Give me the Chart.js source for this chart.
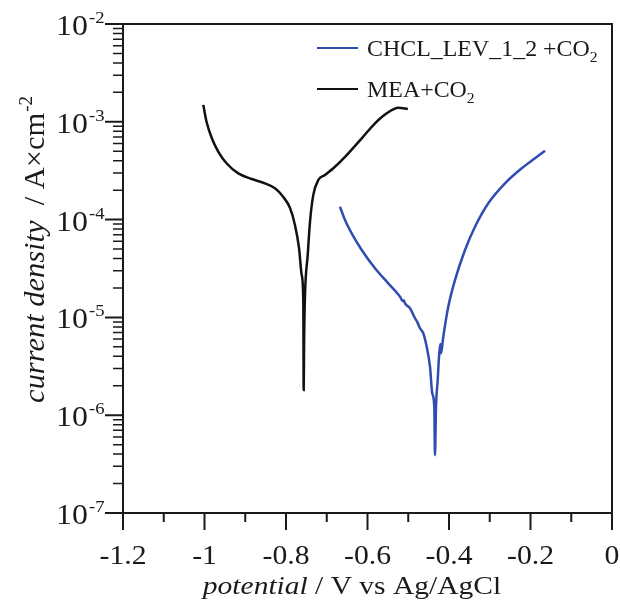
<!DOCTYPE html>
<html lang="es">
<head>
<meta charset="UTF-8">
<title>Curvas de polarización</title>
<script src="https://cdn.jsdelivr.net/npm/chart.js@4.4.1/dist/chart.umd.min.js"></script>
<style>
    body { margin: 0; background: #fff; }
    #contenedor { width: 620px; height: 602px; position: relative; }
</style>
</head>
<body>
<div id="contenedor"><canvas id="grafico-tafel"></canvas></div>
<script>
// Eje X: potencial (V vs Ag/AgCl)
const potencialTicks = [-1.2, -1, -0.8, -0.6, -0.4, -0.2, 0];
const potencialEtiquetas = ['-1.2', '-1', '-0.8', '-0.6', '-0.4', '-0.2', '0'];
const potencialTicksMenores = [-1.1, -0.9, -0.7, -0.5, -0.3, -0.1];

// Eje Y: densidad de corriente, décadas de 10^-7 a 10^-2
const corrienteDecadas = [-7, -6, -5, -4, -3, -2];

// Serie CHCL_LEV_1_2 + CO2
const chclPotencial = [-0.6675, -0.6552, -0.6388, -0.6142, -0.5816, -0.549, -0.5202, -0.514, -0.511,
    -0.508, -0.4957, -0.4834, -0.478, -0.4712, -0.4631, -0.4547, -0.4466, -0.441, -0.4361, -0.4344,
    -0.4319, -0.4277, -0.4245, -0.4213, -0.4196, -0.414, -0.4017, -0.3853, -0.3607, -0.3362, -0.3036,
    -0.2626, -0.2216, -0.189, -0.1644];
const chclCorriente = [1.355e-4, 9.9e-5, 7.24e-5, 4.89e-5, 3.18e-5, 2.23e-5, 1.63e-5, 1.47e-5, 1.5e-5,
    1.39e-5, 1.24e-5, 9.8e-6, 9.0e-6, 7.74e-6, 6.88e-6, 5.0e-6, 3.13e-6, 1.67e-6, 1.22e-6, 3.9e-7,
    1.22e-6, 2.29e-6, 3.96e-6, 5.35e-6, 4.3e-6, 6.35e-6, 1.29e-5, 2.41e-5, 4.89e-5, 8.46e-5, 1.47e-4,
    2.35e-4, 3.35e-4, 4.24e-4, 5.06e-4];

// Serie MEA + CO2
const meaPotencial = [-1.003, -0.995, -0.982, -0.966, -0.946, -0.917, -0.884, -0.852, -0.827, -0.807,
    -0.790, -0.778, -0.768, -0.7615, -0.7575, -0.7566, -0.7555, -0.7534, -0.7467, -0.7411, -0.733,
    -0.7207, -0.7043, -0.6798, -0.647, -0.614, -0.5816, -0.553, -0.524, -0.501];
const meaCorriente = [1.49e-3, 1.0e-3, 6.78e-4, 4.94e-4, 3.77e-4, 2.97e-4, 2.6e-4, 2.35e-4, 2.09e-4, 1.71e-4,
    1.31e-4, 8.8e-5, 5.1e-5, 2.72e-5, 1.45e-5, 1.81e-6, 6e-6, 1.69e-5, 4.35e-5, 9.5e-5, 1.79e-4,
    2.54e-4, 2.86e-4, 3.47e-4, 4.76e-4, 6.78e-4, 9.66e-4, 1.22e-3, 1.39e-3, 1.35e-3];

const colorChcl = '#2f4db0';
const colorMea = '#111111';
const fuente = '"Liberation Serif", "Times New Roman", serif';

// Convierte dos listas en puntos {x, y}
function puntos(xs, ys) {
    return xs.map((x, i) => ({ x: x, y: ys[i] }));
}

// Escribe un texto estirado horizontalmente, devuelve el ancho ocupado
function texto(ctx, t, x, y, font, sx) {
    ctx.font = font;
    ctx.save();
    ctx.translate(x, y);
    ctx.scale(sx, 1);
    ctx.fillText(t, 0, 0);
    ctx.restore();
    return ctx.measureText(t).width * sx;
}

function ancho(ctx, t, font, sx) {
    ctx.font = font;
    return ctx.measureText(t).width * sx;
}

// Plugin que dibuja el marco, las marcas, las etiquetas y la leyenda
const ejesPlugin = {
    id: 'ejes',
    afterDatasetsDraw(chart) {
        const ctx = chart.ctx;
        const area = chart.chartArea;
        const sx = chart.scales.x;
        const sy = chart.scales.y;

        ctx.save();
        ctx.strokeStyle = '#1a1a1a';
        ctx.fillStyle = '#1a1a1a';
        ctx.lineWidth = 2;
        ctx.strokeRect(area.left, area.top, area.right - area.left, area.bottom - area.top);

        // Marcas del eje Y (mayores y menores)
        ctx.beginPath();
        corrienteDecadas.forEach(d => {
            const y = sy.getPixelForValue(Math.pow(10, d));
            ctx.moveTo(area.left - 18, y);
            ctx.lineTo(area.left, y);
        });
        ctx.stroke();
        ctx.lineWidth = 1.5;
        ctx.beginPath();
        corrienteDecadas.slice(0, -1).forEach(d => {
            for (let m = 2; m <= 9; m++) {
                const y = sy.getPixelForValue(m * Math.pow(10, d));
                ctx.moveTo(area.left - 10, y);
                ctx.lineTo(area.left, y);
            }
        });
        ctx.stroke();

        // Marcas del eje X
        ctx.lineWidth = 2;
        ctx.beginPath();
        potencialTicks.forEach(v => {
            const x = sx.getPixelForValue(v);
            ctx.moveTo(x, area.bottom);
            ctx.lineTo(x, area.bottom + 17);
        });
        potencialTicksMenores.forEach(v => {
            const x = sx.getPixelForValue(v);
            ctx.moveTo(x, area.bottom);
            ctx.lineTo(x, area.bottom + 9);
        });
        ctx.stroke();

        // Etiquetas del eje X
        const fTick = '27px ' + fuente;
        potencialTicks.forEach((v, i) => {
            const x = sx.getPixelForValue(v);
            const w = ancho(ctx, potencialEtiquetas[i], fTick, 1.1);
            texto(ctx, potencialEtiquetas[i], x - w / 2, area.bottom + 51, fTick, 1.1);
        });

        // Etiquetas del eje Y: 10 con exponente
        const fDiez = '29px ' + fuente;
        const fExp = '17px ' + fuente;
        corrienteDecadas.forEach(d => {
            const y = sy.getPixelForValue(Math.pow(10, d));
            const w = ancho(ctx, '10', fDiez, 1.1);
            texto(ctx, '10', 88 - w, y + 11, fDiez, 1.1);
            texto(ctx, '-' + Math.abs(d), 89, y - 1, fExp, 1.1);
        });

        // Título del eje X
        const fIt = 'italic 25px ' + fuente;
        const fRe = '25px ' + fuente;
        const parte1 = 'potential';
        const parte2 = ' / V vs Ag/AgCl';
        const total = ancho(ctx, parte1, fIt, 1.18) + ancho(ctx, parte2, fRe, 1.18);
        let x0 = 352 - total / 2;
        x0 += texto(ctx, parte1, x0, 594, fIt, 1.18);
        texto(ctx, parte2, x0, 594, fRe, 1.18);

        // Título del eje Y (rotado)
        ctx.save();
        ctx.translate(44, 250);
        ctx.rotate(-Math.PI / 2);
        const fItY = 'italic 29px ' + fuente;
        const fReY = '29px ' + fuente;
        const a1 = 'current density';
        const a2 = '  / A\u00d7cm';
        const a3 = '-2';
        const totalY = ancho(ctx, a1, fItY, 1.05) + ancho(ctx, a2, fReY, 1.05) + ancho(ctx, a3, '18px ' + fuente, 1.05);
        let t0 = -totalY / 2;
        t0 += texto(ctx, a1, t0, 0, fItY, 1.05);
        t0 += texto(ctx, a2, t0, 0, fReY, 1.05);
        texto(ctx, a3, t0 + 1, -12, '18px ' + fuente, 1.05);
        ctx.restore();

        // Leyenda
        const fLey = '23px ' + fuente;
        const fSub = '15px ' + fuente;
        const filas = [
            { color: colorChcl, texto: 'CHCL_LEV_1_2 +CO', y: 48 },
            { color: colorMea, texto: 'MEA+CO', y: 89 }
        ];
        filas.forEach(f => {
            ctx.strokeStyle = f.color;
            ctx.lineWidth = 2;
            ctx.beginPath();
            ctx.moveTo(317, f.y);
            ctx.lineTo(358, f.y);
            ctx.stroke();
            ctx.fillStyle = '#1a1a1a';
            const w = texto(ctx, f.texto, 367, f.y + 8, fLey, 1.04);
            texto(ctx, '2', 367 + w, f.y + 14, fSub, 1.04);
        });
        ctx.restore();
    }
};

// Gráfico de polarización (escala logarítmica en Y)
const ctxTafel = document.getElementById('grafico-tafel').getContext('2d');
new Chart(ctxTafel, {
    type: 'scatter',
    data: {
        datasets: [{
            label: 'CHCL_LEV_1_2 +CO2',
            data: puntos(chclPotencial, chclCorriente),
            borderColor: colorChcl,
            borderWidth: 2.5,
            showLine: true,
            pointRadius: 0,
            cubicInterpolationMode: 'monotone'
        }, {
            label: 'MEA+CO2',
            data: puntos(meaPotencial, meaCorriente),
            borderColor: colorMea,
            borderWidth: 2.5,
            showLine: true,
            pointRadius: 0,
            cubicInterpolationMode: 'monotone'
        }]
    },
    options: {
        responsive: true,
        maintainAspectRatio: false,
        animation: false,
        layout: { padding: { left: 123, right: 8, top: 24, bottom: 89 } },
        scales: {
            x: { type: 'linear', min: -1.2, max: 0, display: false },
            y: { type: 'logarithmic', min: 1e-7, max: 1e-2, display: false }
        },
        plugins: {
            legend: { display: false },
            tooltip: { enabled: false }
        }
    },
    plugins: [ejesPlugin]
});
</script>
</body>
</html>
